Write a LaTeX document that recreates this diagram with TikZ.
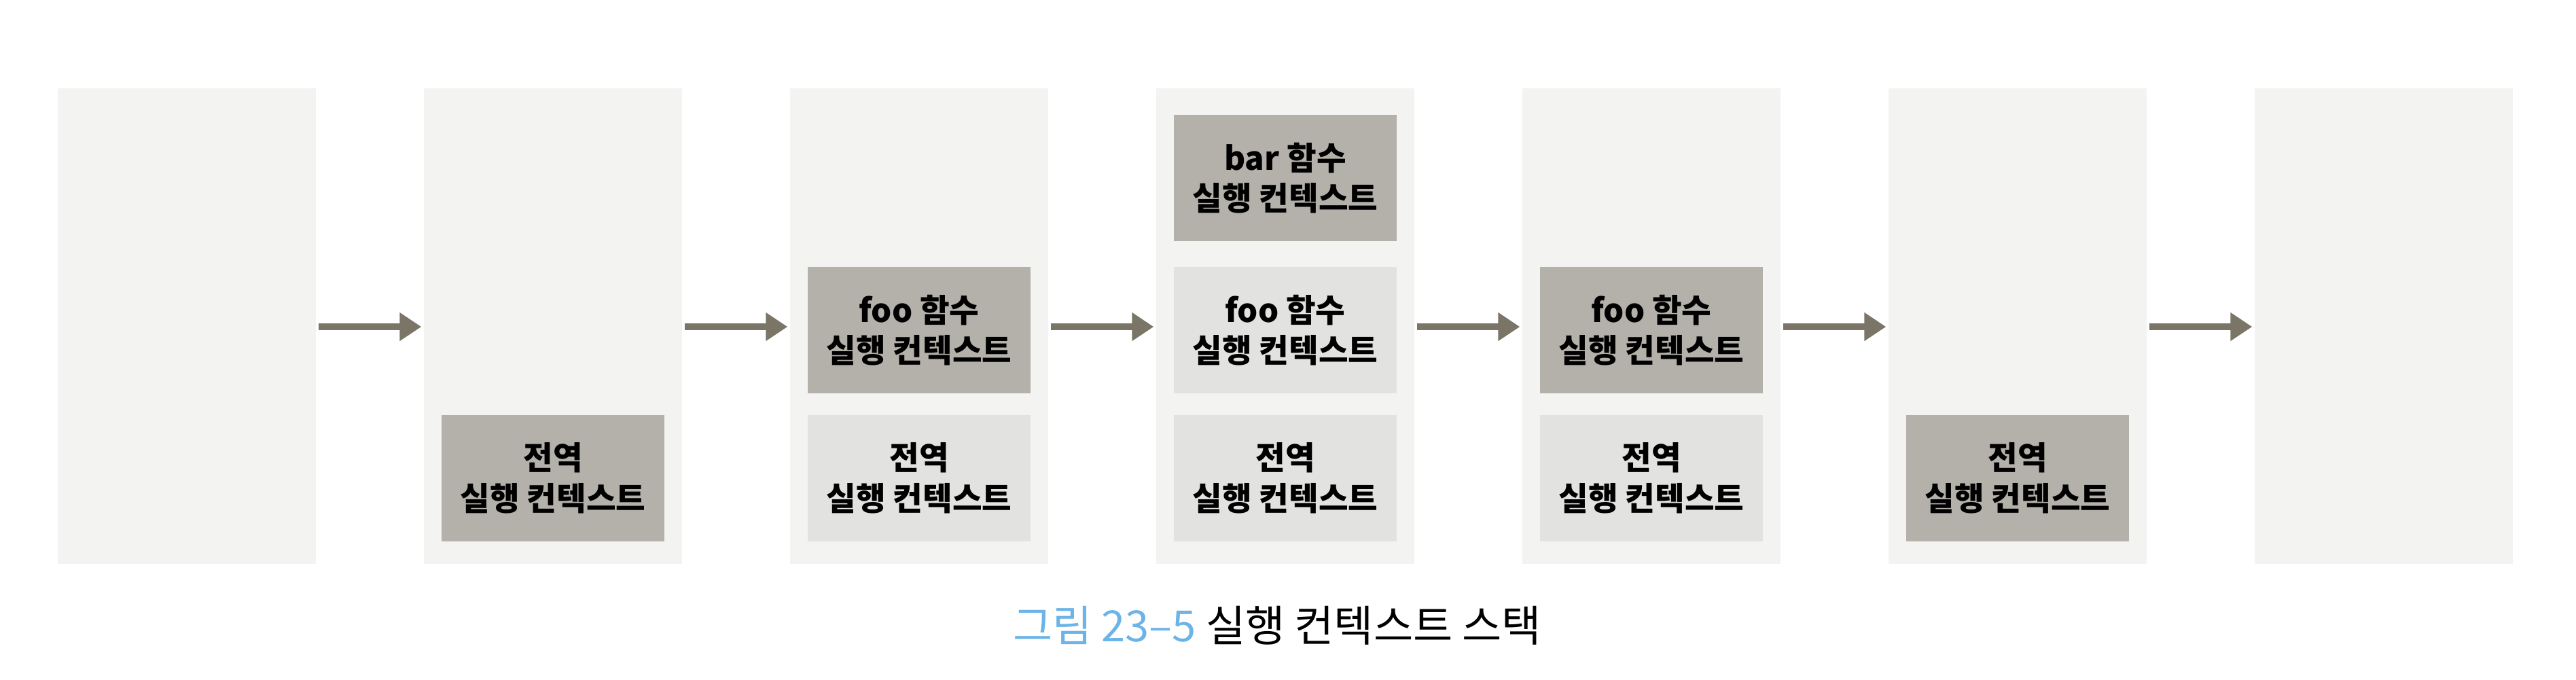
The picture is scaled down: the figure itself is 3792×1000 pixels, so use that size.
\documentclass[tikz,border=0pt]{standalone}
\usepackage{fontspec}
\setmainfont{Noto Sans CJK KR}
\newfontfamily\kr{Noto Sans CJK KR}
\usetikzlibrary{arrows.meta}
\definecolor{panelc}{HTML}{F3F3F2}
\definecolor{activec}{HTML}{B4B1AB}
\definecolor{idlec}{HTML}{E2E2E0}
\definecolor{arrc}{HTML}{7B7567}
\definecolor{capblue}{HTML}{6CB4E8}
\tikzset{
  panel/.style={fill=panelc, draw=none, minimum width=38mm, minimum height=70mm, inner sep=0pt},
  ctx/.style={draw=none, minimum width=32.8mm, minimum height=18.6mm, inner sep=0pt,
    align=center, font=\kr\bfseries\fontsize{13.5}{17}\selectfont, text=black},
  activebox/.style={ctx, fill=activec},
  idlebox/.style={ctx, fill=idlec},
  arr/.style={draw=arrc, line width=1mm, -{Triangle[length=3.2mm,width=4mm]}, shorten <=0.3mm, shorten >=0.3mm}
}
\begin{document}
\begin{tikzpicture}[x=0.1mm,y=-0.1mm]
\useasboundingbox[fill=white] (0,0) rectangle (3792,1000);
% panels
\node[panel] (p1) at (275,480) {};
\node[panel] (p2) at (814,480) {};
\node[panel] (p3) at (1353,480) {};
\node[panel] (p4) at (1892,480) {};
\node[panel] (p5) at (2431,480) {};
\node[panel] (p6) at (2970,480) {};
\node[panel] (p7) at (3509,480) {};
% boxes
\node[activebox] (g2) at (814,704) {전역\\실행 컨텍스트};
\node[activebox] (f3) at (1353,486) {foo 함수\\실행 컨텍스트};
\node[idlebox] (g3) at (1353,704) {전역\\실행 컨텍스트};
\node[activebox] (b4) at (1892,262) {bar 함수\\실행 컨텍스트};
\node[idlebox] (f4) at (1892,486) {foo 함수\\실행 컨텍스트};
\node[idlebox] (g4) at (1892,704) {전역\\실행 컨텍스트};
\node[activebox] (f5) at (2431,486) {foo 함수\\실행 컨텍스트};
\node[idlebox] (g5) at (2431,704) {전역\\실행 컨텍스트};
\node[activebox] (g6) at (2970,704) {전역\\실행 컨텍스트};
% arrows
\foreach \a/\b in {p1/p2,p2/p3,p3/p4,p4/p5,p5/p6,p6/p7}
  \draw[arr] ([yshift=-0.1mm]\a.east) -- ([yshift=-0.1mm]\b.west);
% caption
\node[font=\kr\fontsize{18}{21}\selectfont, inner sep=0pt] (cap) at (1880,921)
  {\textcolor{capblue}{그림 23–5} 실행 컨텍스트 스택};
\end{tikzpicture}
\end{document}
